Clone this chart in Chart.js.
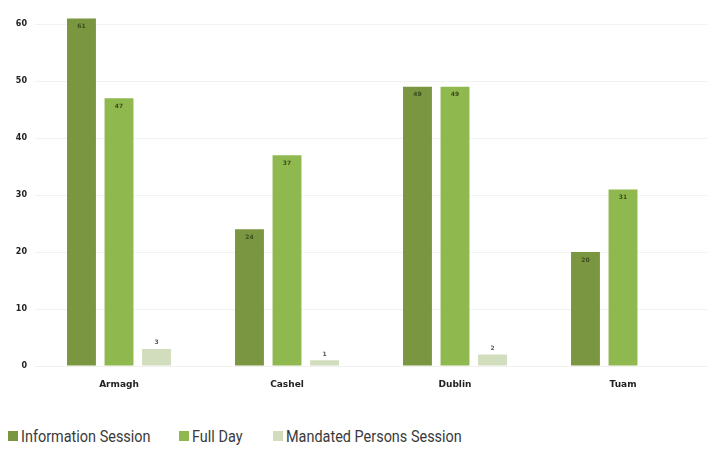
<!DOCTYPE html>
<html>
<head>
<meta charset="utf-8">
<script src="https://cdn.jsdelivr.net/npm/chart.js@4.4.1/dist/chart.umd.min.js"></script>
<style>
    html, body { margin: 0; padding: 0; background: #ffffff; }
    #wrap { position: relative; width: 708px; height: 395px; }
    #legend { position: absolute; left: 0; top: 426px; width: 708px; height: 22px; font-family: Roboto, sans-serif; font-size: 17px; color: #3a3a3a; }
    #legend .item { position: absolute; top: 0; display: flex; align-items: center; white-space: nowrap; }
    #legend .box { width: 10px; height: 10px; margin-right: 3px; flex: none; }
    #legend .text { display: inline-block; transform: scaleX(0.85); transform-origin: left center; }
</style>
</head>
<body>
<div id="wrap"><canvas id="sessions"></canvas></div>
<div id="legend"></div>
<script>
const categories = ['Armagh', 'Cashel', 'Dublin', 'Tuam'];
const seriesNames = ['Information Session', 'Full Day', 'Mandated Persons Session'];
const informationSession = [61, 24, 49, 20];
const fullDay = [47, 37, 49, 31];
const mandatedPersons = [3, 1, 2, 0];
const yTicks = [0, 10, 20, 30, 40, 50, 60];
const seriesColours = ['#7a9640', '#8fb84f', '#d2ddbd'];

const datasets = [informationSession, fullDay, mandatedPersons].map((values, i) => ({
    label: seriesNames[i],
    data: values,
    backgroundColor: seriesColours[i],
    categoryPercentage: 0.67,
    barPercentage: 0.77,
}));

// value labels: inside the top of the tall bars, above the small ones
const valueLabels = {
    id: 'valueLabels',
    afterDatasetsDraw: (chart) => {
        const { ctx } = chart;
        ctx.save();
        ctx.textAlign = 'center';
        ctx.font = 'bold 6px "DejaVu Sans"';
        chart.data.datasets.forEach((dataset, di) => {
            const meta = chart.getDatasetMeta(di);
            meta.data.forEach((bar, index) => {
                const value = dataset.data[index];
                if (!value) {
                    return;
                }
                if (di === 2) {
                    ctx.fillStyle = '#555555';
                    ctx.textBaseline = 'bottom';
                    ctx.fillText(value, bar.x, bar.y - 3);
                } else {
                    ctx.fillStyle = '#3b4a1c';
                    ctx.textBaseline = 'middle';
                    ctx.fillText(value, bar.x, bar.y + 8);
                }
            });
        });
        ctx.restore();
    },
};

new Chart(document.getElementById('sessions'), {
    type: 'bar',
    data: {
        labels: categories,
        datasets: datasets,
    },
    options: {
        responsive: true,
        maintainAspectRatio: false,
        animation: false,
        layout: { padding: { top: 5, right: 1, bottom: 0, left: 0 } },
        plugins: {
            legend: { display: false },
            tooltip: { enabled: false },
        },
        scales: {
            x: {
                grid: { display: false },
                border: { color: '#f0f0f0' },
                ticks: {
                    color: '#222222',
                    font: { family: 'DejaVu Sans', size: 9, weight: 'bold' },
                    padding: 5,
                },
                afterFit: (scale) => { scale.height = 29; },
            },
            y: {
                min: 0,
                max: 62,
                border: { display: false },
                grid: { color: '#f2f2f2', drawTicks: false },
                ticks: {
                    color: '#222222',
                    font: { family: 'DejaVu Sans', size: 8, weight: 'bold' },
                    padding: 8,
                },
                afterBuildTicks: (scale) => {
                    scale.ticks = yTicks.map((v) => ({ value: v }));
                },
                afterFit: (scale) => { scale.width = 35; },
            },
        },
    },
    plugins: [valueLabels],
});

// legend row under the chart
const legendLefts = [8, 179, 273];
const legend = document.getElementById('legend');
seriesNames.forEach((name, i) => {
    const item = document.createElement('div');
    item.className = 'item';
    item.style.left = legendLefts[i] + 'px';
    item.innerHTML = '<span class="box" style="background:' + seriesColours[i] + '"></span><span class="text">' + name + '</span>';
    legend.appendChild(item);
});
</script>
</body>
</html>
